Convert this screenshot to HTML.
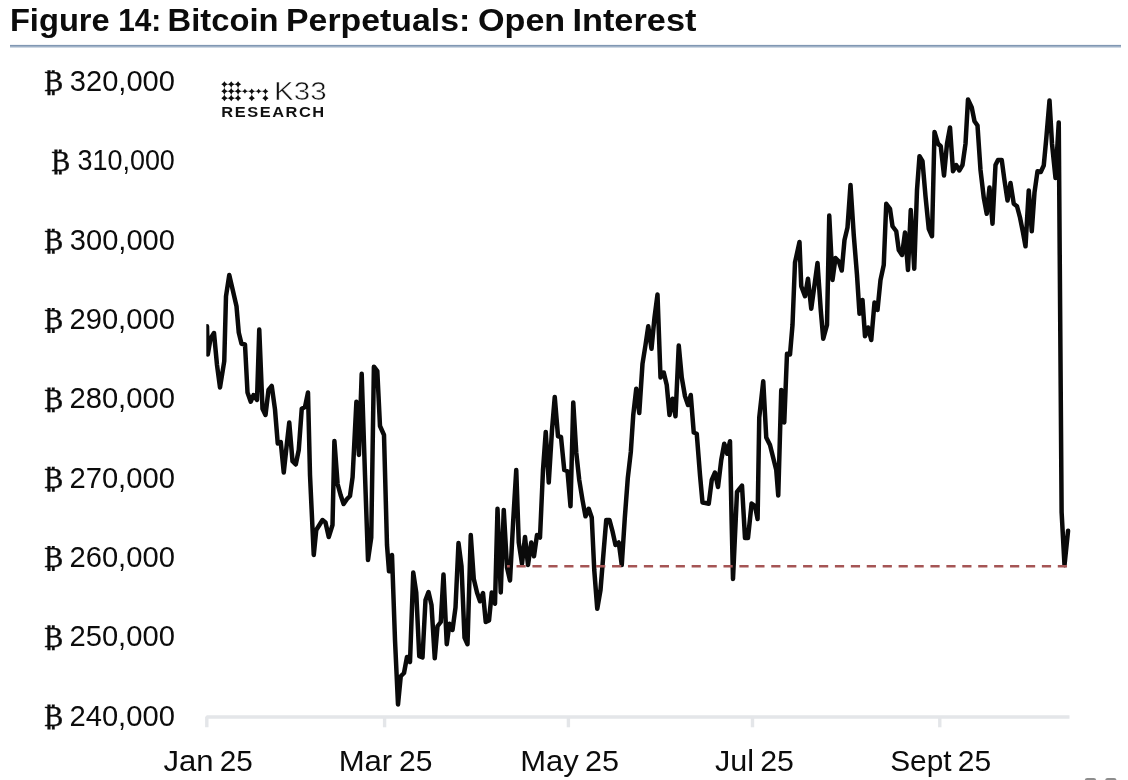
<!DOCTYPE html>
<html lang="en"><head><meta charset="utf-8"><title>Figure 14: Bitcoin Perpetuals: Open Interest</title>
<style>
html,body{margin:0;padding:0;background:#fff;}
body{width:1128px;height:780px;overflow:hidden;font-family:"Liberation Sans",sans-serif;}
svg{display:block;}
text{font-family:"Liberation Sans",sans-serif;fill:#0c0c0c;font-kerning:none;white-space:pre;}
.btc{font-family:"Liberation Serif",serif;stroke:#0c0c0c;stroke-width:0.35px;}
</style></head><body>
<svg width="1128" height="780" viewBox="0 0 1128 780">
<rect width="1128" height="780" fill="#fff"/>
<defs><clipPath id="plot"><rect x="206.3" y="60" width="880" height="670"/></clipPath></defs>

<text y="31.3" font-size="32" font-weight="bold"><tspan x="9.92" textLength="99.8" lengthAdjust="spacingAndGlyphs">Figure</tspan> <tspan x="118.22" textLength="43.04" lengthAdjust="spacingAndGlyphs">14:</tspan> <tspan x="167.61" textLength="110.92" lengthAdjust="spacingAndGlyphs">Bitcoin</tspan> <tspan x="286.04" textLength="184.22" lengthAdjust="spacingAndGlyphs">Perpetuals:</tspan> <tspan x="478.0" textLength="87.22" lengthAdjust="spacingAndGlyphs">Open</tspan> <tspan x="572.45" textLength="123.96" lengthAdjust="spacingAndGlyphs">Interest</tspan></text>
<rect x="10" y="44.9" width="1111" height="1.9" fill="#8097b3"/><rect x="10" y="46.8" width="1111" height="1" fill="#c3cfdd"/>
<defs><clipPath id="bc" clipPathUnits="objectBoundingBox"><rect x="-0.3" y="0.1226" width="1.6" height="0.8054"/></clipPath></defs>
<g><text class="btc" clip-path="url(#bc)" x="43.58" y="91.4" font-size="28.6">₿</text> <text x="69.79" y="91.1" font-size="28.6" textLength="105.14" lengthAdjust="spacingAndGlyphs">320,000</text></g>
<g><text class="btc" clip-path="url(#bc)" x="50.48" y="170.7" font-size="28.6">₿</text> <text x="77.47" y="170.4" font-size="28.6" textLength="97.38" lengthAdjust="spacingAndGlyphs">310,000</text></g>
<g><text class="btc" clip-path="url(#bc)" x="43.58" y="250.0" font-size="28.6">₿</text> <text x="69.79" y="249.7" font-size="28.6" textLength="105.14" lengthAdjust="spacingAndGlyphs">300,000</text></g>
<g><text class="btc" clip-path="url(#bc)" x="43.58" y="329.3" font-size="28.6">₿</text> <text x="69.43" y="329.0" font-size="28.6" textLength="105.51" lengthAdjust="spacingAndGlyphs">290,000</text></g>
<g><text class="btc" clip-path="url(#bc)" x="43.58" y="408.6" font-size="28.6">₿</text> <text x="69.43" y="408.3" font-size="28.6" textLength="105.51" lengthAdjust="spacingAndGlyphs">280,000</text></g>
<g><text class="btc" clip-path="url(#bc)" x="43.58" y="487.9" font-size="28.6">₿</text> <text x="69.43" y="487.6" font-size="28.6" textLength="105.51" lengthAdjust="spacingAndGlyphs">270,000</text></g>
<g><text class="btc" clip-path="url(#bc)" x="43.58" y="567.2" font-size="28.6">₿</text> <text x="69.43" y="566.9" font-size="28.6" textLength="105.51" lengthAdjust="spacingAndGlyphs">260,000</text></g>
<g><text class="btc" clip-path="url(#bc)" x="43.58" y="646.5" font-size="28.6">₿</text> <text x="69.43" y="646.2" font-size="28.6" textLength="105.51" lengthAdjust="spacingAndGlyphs">250,000</text></g>
<g><text class="btc" clip-path="url(#bc)" x="43.58" y="725.8" font-size="28.6">₿</text> <text x="69.43" y="725.5" font-size="28.6" textLength="105.51" lengthAdjust="spacingAndGlyphs">240,000</text></g>
<path d="M206.8 727.3 V717 H1069.5" fill="none" stroke="#e4e6e9" stroke-width="3.4" stroke-linejoin="bevel"/>
<path d="M384.6 717 V727.3" stroke="#e4e6e9" stroke-width="3.4"/>
<path d="M568.4 717 V727.3" stroke="#e4e6e9" stroke-width="3.4"/>
<path d="M752.5 717 V727.3" stroke="#e4e6e9" stroke-width="3.4"/>
<path d="M939.8 717 V727.3" stroke="#e4e6e9" stroke-width="3.4"/>
<text y="770.9" font-size="28.6"><tspan x="163.51" textLength="50.1" lengthAdjust="spacingAndGlyphs">Jan</tspan> <tspan x="219.81" textLength="33.04" lengthAdjust="spacingAndGlyphs">25</tspan></text>
<text y="770.9" font-size="28.6"><tspan x="338.65" textLength="53.57" lengthAdjust="spacingAndGlyphs">Mar</tspan> <tspan x="398.99" textLength="33.37" lengthAdjust="spacingAndGlyphs">25</tspan></text>
<text y="770.9" font-size="28.6"><tspan x="520.26" textLength="58.5" lengthAdjust="spacingAndGlyphs">May</tspan> <tspan x="585.06" textLength="34.02" lengthAdjust="spacingAndGlyphs">25</tspan></text>
<text y="770.9" font-size="28.6"><tspan x="714.92" textLength="39.02" lengthAdjust="spacingAndGlyphs">Jul</tspan> <tspan x="760.18" textLength="33.7" lengthAdjust="spacingAndGlyphs">25</tspan></text>
<text y="770.9" font-size="28.6"><tspan x="890.15" textLength="61.37" lengthAdjust="spacingAndGlyphs">Sept</tspan> <tspan x="957.79" textLength="33.37" lengthAdjust="spacingAndGlyphs">25</tspan></text>
<polyline clip-path="url(#plot)" points="207,326.25 207.75,354.5 210.5,338.75 214,333 217,365 220,387.5 224.25,361.25 226,296.25 229.25,275 232.75,290 236.5,306.25 238.75,332.5 241.5,343.75 245,344.5 247.5,392.5 250.75,401.75 253.5,395 257,400 259.25,329.5 262.5,408.75 265.5,415 268.5,390 271.75,386 275,409.5 277.75,443.5 280.75,442 283.75,472.5 287,442.5 289.25,422.5 292.5,461.25 295.75,464.5 298.75,450 301.75,408.75 305,407 308,392.5 310,475 313.75,555 316.25,530 322.5,520 325.5,522.5 328.75,537 332.5,525 334.4,441 337.6,484 340.6,495 343.6,504 347,499 350,496 352.6,477 356.4,401.8 358.9,455 361.7,373.8 365,475 368,560 371.25,537.5 373.9,366.7 377.3,371.2 380,426 384,435 387,545 389,571.25 392,555 395,640 398,704.5 400.75,676.25 404,673 407,657 410,662 413.25,572.5 416.25,592.5 419.25,656.25 422.5,657.5 425.5,600 428.5,592 431.5,605 434.75,658.25 437.5,626.25 440.75,622 443.5,574.5 446.75,644.25 449.5,623.75 452.5,630 455.5,607.5 458.5,543 461.5,566.25 464.5,637.5 467.5,644.25 470.75,535 473.75,578.75 477,592.5 480,601.25 483,593 485.75,622 489,620.5 491.75,592.5 495,603.75 497.5,508.75 500.75,592.5 503.75,510 507,567.5 510,580.5 513.25,520 516.25,470 518.75,542.5 522,563.75 525,537 528,565 531.25,542.5 534,556.25 537,535 540,537.5 543,470 545.75,432 548.75,482.5 552,430 554.75,397 558,436.25 561,437 564.25,470 567.5,471.25 570.5,506.25 573.25,402.5 576.25,452.5 579.25,480 582.5,500 585.5,516.25 588.75,508.75 591.75,517.5 594.25,570 597.25,608.75 600.5,590 603.75,550 606.25,520 609.5,520 612.5,531.25 615.5,545 618.75,542.5 621.75,565 624.8,518 627.8,478 630.8,452 633.25,415 636.25,388.75 639.25,413 642.5,363.75 645.5,345 648.25,326.25 651.5,348.75 654.5,317.5 657.5,294.5 660.5,377.5 663.75,372.5 666.75,385 669.5,415 672.5,398.75 675.5,416.25 678.75,345.5 681.75,377.5 685,396.25 688,405 690.75,395 693.75,432.5 696.75,433.75 700,475 702.5,502.5 705.5,503 708.75,503.75 711.75,480 715,472.5 718,487 721.25,460 724.25,443.75 727.25,453.75 730,441.25 731.6,520 733,579 737,492 742,485.6 745,538 748,538 751.6,503.6 755,506 757.6,519 759.25,417.5 763.25,381.25 766.25,437.5 770,445 773.75,460 776.25,470 778.25,495.5 781.25,390 784.25,422.5 787,353.75 790,354.5 792.5,325 795,262.5 799.5,242 801.25,286.25 805,296.25 808,278.75 811.25,308.75 814.5,285 817.5,263 820.75,310 823.25,338.75 827,325 829.25,215.5 832.5,280 835.5,258 838.75,261.25 841.75,270.5 844.5,240 847.5,227.5 850.5,185 853.75,235 857,275 859.5,313.75 862.5,300 865,336.25 868,327.5 871.25,340 874.5,302.5 877.5,310 880.5,280 883.75,265 886.25,203.75 890,208.75 892.5,226.25 896.25,231.25 898.75,250 902,255 905,232.5 908,270 910.75,210 914.25,268.75 917,190 919.5,156.25 922.5,161.25 925.5,196.25 928.75,228.75 932,236.25 934.5,132 938,143.75 940.75,146.25 944,175.5 947,143.75 950,127.5 953,171.25 956.25,165 959.25,170.5 962.5,165 965.5,143.75 968,99.5 971.75,107.5 974.5,121.25 977.5,125.5 980.5,170 983.75,197.5 986.75,213.75 989.5,187.5 992.5,223.75 995.5,165 998,160 1001.75,160 1004.25,178.75 1007.5,200.5 1010.5,183 1013.75,203.75 1017,206.25 1020,217.5 1023,232.5 1025.5,246.25 1028.75,190.5 1031.75,231.25 1034.5,192.5 1037.5,171.25 1040.75,172 1043.75,165.5 1046.25,138.75 1049.5,100.5 1052,143.75 1055.5,178 1058.75,122.5 1061.61,512.02 1064.5,565.2 1068.07,530.85" fill="none" stroke="#0a0a0a" stroke-width="4.5" stroke-linejoin="round" stroke-linecap="round"/>
<path d="M507 566.25 H1067" stroke="#a55555" stroke-width="2.5" stroke-dasharray="9.2 6.72" stroke-dashoffset="6.4" fill="none"/>
<g fill="#0d0d0d"><path d="M224.4 84.35V98.2M231.24 84.35V98.2M238.08 84.35V98.2M224.4 84.35H238.08M224.4 91.28H265.44M224.4 98.2H238.08M251.76 91.28V98.2M265.44 91.28V98.2" stroke="#909090" stroke-width="0.9" fill="none"/><path d="M221.30 84.35Q223.47 83.42 224.40 81.25Q225.33 83.42 227.50 84.35Q225.33 85.28 224.40 87.45Q223.47 85.28 221.30 84.35Z"/><path d="M221.30 91.28Q223.47 90.35 224.40 88.18Q225.33 90.35 227.50 91.28Q225.33 92.21 224.40 94.38Q223.47 92.21 221.30 91.28Z"/><path d="M221.30 98.20Q223.47 97.27 224.40 95.10Q225.33 97.27 227.50 98.20Q225.33 99.13 224.40 101.30Q223.47 99.13 221.30 98.20Z"/><path d="M228.14 84.35Q230.31 83.42 231.24 81.25Q232.17 83.42 234.34 84.35Q232.17 85.28 231.24 87.45Q230.31 85.28 228.14 84.35Z"/><path d="M228.14 91.28Q230.31 90.35 231.24 88.18Q232.17 90.35 234.34 91.28Q232.17 92.21 231.24 94.38Q230.31 92.21 228.14 91.28Z"/><path d="M228.14 98.20Q230.31 97.27 231.24 95.10Q232.17 97.27 234.34 98.20Q232.17 99.13 231.24 101.30Q230.31 99.13 228.14 98.20Z"/><path d="M234.98 84.35Q237.15 83.42 238.08 81.25Q239.01 83.42 241.18 84.35Q239.01 85.28 238.08 87.45Q237.15 85.28 234.98 84.35Z"/><path d="M234.98 91.28Q237.15 90.35 238.08 88.18Q239.01 90.35 241.18 91.28Q239.01 92.21 238.08 94.38Q237.15 92.21 234.98 91.28Z"/><path d="M234.98 98.20Q237.15 97.27 238.08 95.10Q239.01 97.27 241.18 98.20Q239.01 99.13 238.08 101.30Q237.15 99.13 234.98 98.20Z"/><path d="M242.42 91.28Q244.17 90.53 244.92 88.78Q245.67 90.53 247.42 91.28Q245.67 92.03 244.92 93.78Q244.17 92.03 242.42 91.28Z"/><path d="M248.86 91.28Q250.89 90.41 251.76 88.38Q252.63 90.41 254.66 91.28Q252.63 92.15 251.76 94.18Q250.89 92.15 248.86 91.28Z"/><path d="M256.10 91.28Q257.85 90.53 258.60 88.78Q259.35 90.53 261.10 91.28Q259.35 92.03 258.60 93.78Q257.85 92.03 256.10 91.28Z"/><path d="M262.54 91.28Q264.57 90.41 265.44 88.38Q266.31 90.41 268.34 91.28Q266.31 92.15 265.44 94.18Q264.57 92.15 262.54 91.28Z"/><path d="M248.66 98.20Q250.83 97.27 251.76 95.10Q252.69 97.27 254.86 98.20Q252.69 99.13 251.76 101.30Q250.83 99.13 248.66 98.20Z"/><path d="M262.34 98.20Q264.51 97.27 265.44 95.10Q266.37 97.27 268.54 98.20Q266.37 99.13 265.44 101.30Q264.51 99.13 262.34 98.20Z"/></g>
<text x="274.08" y="100.3" font-size="26.5" textLength="52.52" lengthAdjust="spacingAndGlyphs" style="fill:#111;stroke:#fff;stroke-width:0.5">K33</text>
<text transform="translate(221.3 117.2) scale(1.19 1)" font-size="13.8" font-weight="bold" letter-spacing="1.3" style="fill:#111">RESEARCH</text>
<rect x="1084.8" y="778" width="11.4" height="8" rx="2.4" fill="#8d8d8d"/><rect x="1105.2" y="778" width="11.3" height="8" rx="2.4" fill="#8d8d8d"/>
</svg></body></html>
